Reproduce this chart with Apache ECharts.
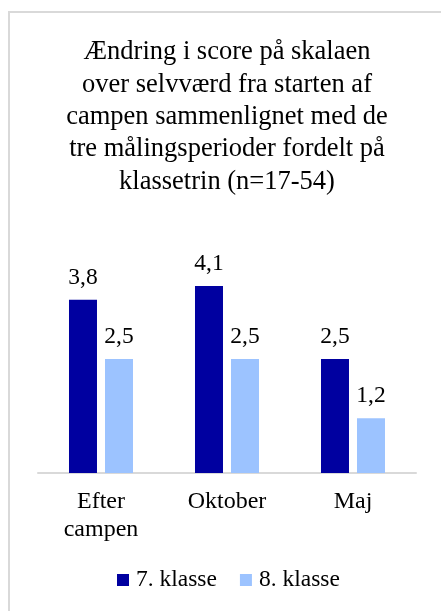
<!DOCTYPE html>
<html>
<head>
<meta charset="utf-8">
<script src="https://cdn.jsdelivr.net/npm/echarts@6/dist/echarts.min.js"></script>
<style>
html,body{margin:0;padding:0;background:#fff;}
#chart{width:441px;height:611px;}
</style>
</head>
<body>
<div id="chart"></div>
<script>
const titleText = 'Ændring i score på skalaen\nover selvværd fra starten af\ncampen sammenlignet med de\ntre målingsperioder fordelt på\nklassetrin (n=17-54)';
const categories = ['Efter\ncampen', 'Oktober', 'Maj'];
const seriesNames = ['7. klasse', '8. klasse'];
const values7 = [3.8, 4.1, 2.5];
const values8 = [2.5, 2.5, 1.2];
const colors = ['#0000A0', '#9CC3FF'];

const font = 'Liberation Serif, Times New Roman, serif';
const fmt = p => p.value.toFixed(1).replace('.', ',');

const chart = echarts.init(document.getElementById('chart'), null, {renderer: 'canvas'});
chart.setOption({
  animation: false,
  backgroundColor: '#fff',
  graphic: [{
    type: 'rect',
    shape: {x: 9, y: 12, width: 600, height: 800},
    style: {fill: 'none', stroke: '#d9d9d9', lineWidth: 2},
    silent: true
  }],
  title: {
    text: titleText,
    left: 227,
    top: 36,
    padding: 0,
    textAlign: 'center',
    textStyle: {fontFamily: font, fontSize: 26.5, fontWeight: 'normal', color: '#000', lineHeight: 32.4}
  },
  legend: {
    left: 117,
    top: 567,
    padding: 0,
    itemWidth: 12,
    itemHeight: 12,
    itemGap: 23,
    icon: 'rect',
    textStyle: {fontFamily: font, fontSize: 23.5, color: '#000', lineHeight: 26, padding: [0, 0, 0, 2]},
    data: seriesNames
  },
  grid: {left: 38, right: 25, top: 245, bottom: 138, containLabel: false},
  xAxis: {
    type: 'category',
    data: categories,
    axisLine: {lineStyle: {color: '#d9d9d9', width: 2}},
    axisTick: {show: false},
    axisLabel: {fontFamily: font, fontSize: 24, color: '#000', lineHeight: 28.5, margin: 14, interval: 0}
  },
  yAxis: {
    type: 'value', min: 0, max: 5, show: false,
    splitLine: {show: false}
  },
  series: [
    {
      name: seriesNames[0], type: 'bar', data: values7, barWidth: 28, barGap: '28.6%',
      itemStyle: {color: colors[0]},
      label: {show: true, position: 'top', distance: 10, formatter: fmt, fontFamily: font, fontSize: 23.5, color: '#000'}
    },
    {
      name: seriesNames[1], type: 'bar', data: values8, barWidth: 28, barGap: '28.6%',
      itemStyle: {color: colors[1]},
      label: {show: true, position: 'top', distance: 10, formatter: fmt, fontFamily: font, fontSize: 23.5, color: '#000'}
    }
  ]
});
</script>
</body>
</html>
